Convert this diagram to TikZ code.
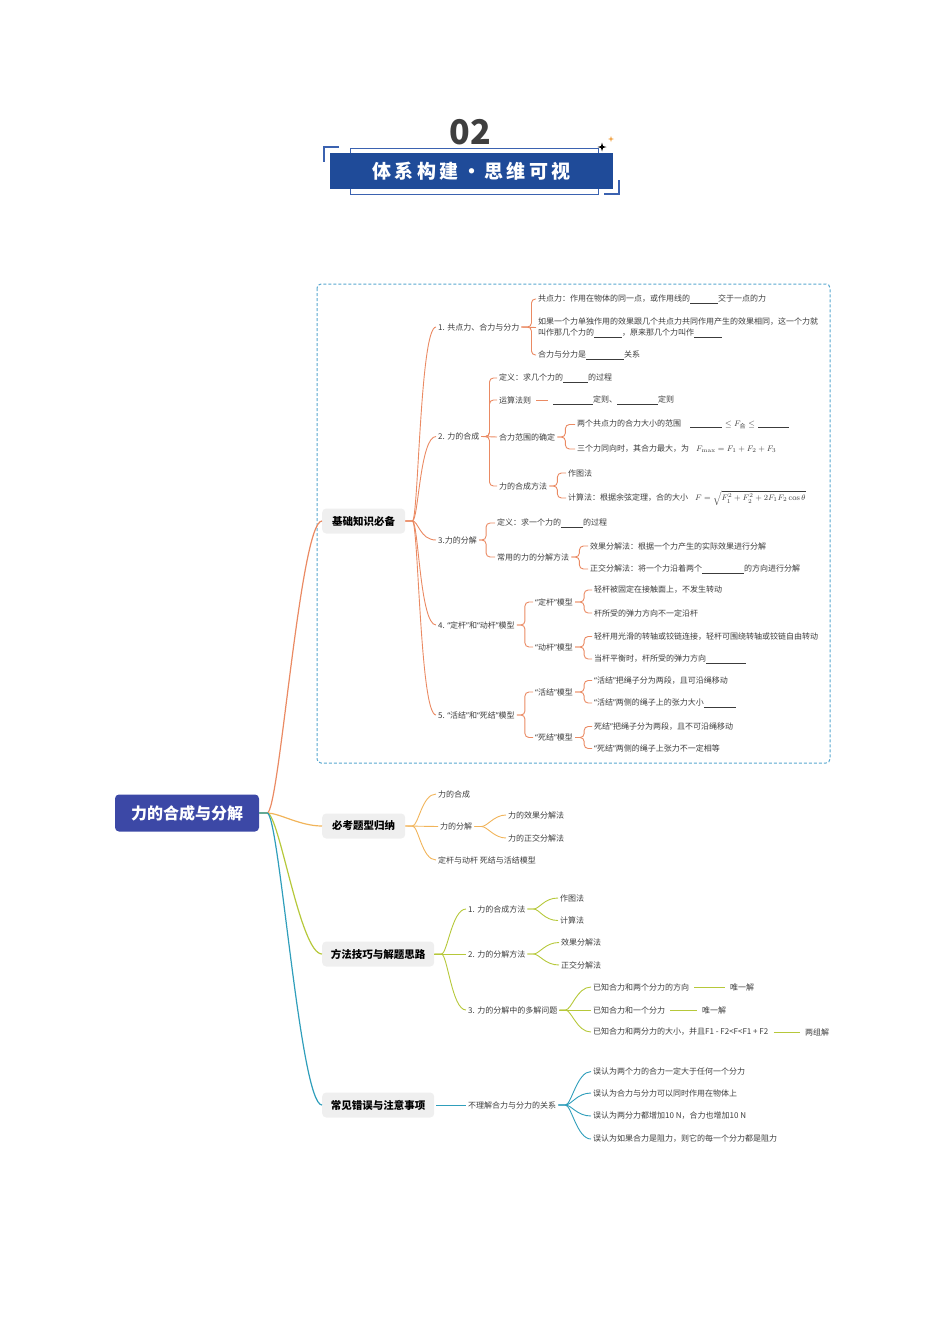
\documentclass[tikz,border=0pt]{standalone}
\usepackage[no-math]{fontspec}
\setmainfont{Noto Sans CJK SC}
\newfontfamily\latinq{Noto Sans}
\usepackage{amsmath}
\usepackage{xcolor}
\definecolor{bandBlue}{HTML}{1F4B99}
\definecolor{frameBlue}{HTML}{3B62B0}
\definecolor{rootBlue}{HTML}{3C48A6}
\definecolor{numGray}{HTML}{3F3F3F}
\definecolor{txtGray}{HTML}{3C3C3C}
\definecolor{boxGray}{HTML}{EFEFEF}
\definecolor{dashBlue}{HTML}{58A7CF}
\definecolor{colBasic}{HTML}{EA8A63}
\definecolor{colExam}{HTML}{F1B45A}
\definecolor{colSkill}{HTML}{B6C83A}
\definecolor{colError}{HTML}{2F9EBB}
\definecolor{starOrange}{HTML}{F0A040}
\newcommand{\tiankong}[1]{\rule[-1.5pt]{#1pt}{0.5pt}}
\newcommand{\qo}{{\latinq “}}
\newcommand{\qc}{{\latinq ”}}
\usepackage{tikz}
\tikzset{
	rootbox/.style={fill=rootBlue, rounded corners=4pt, text=white, font=\fontsize{16}{16}\selectfont\bfseries, minimum width=144pt, minimum height=37pt},
	topicbox/.style={fill=boxGray, rounded corners=4pt, anchor=west, font=\fontsize{10.5}{12}\selectfont\bfseries, minimum width=83pt, minimum height=25pt},
	leaf/.style={anchor=west, inner sep=2pt, text=txtGray, font=\fontsize{8}{11}\selectfont, align=left},
	trunk/.style={draw=#1, line width=1.2pt},
	swing/.style={draw=#1, line width=0.9pt},
	bracket/.style={draw=#1, line width=0.9pt, rounded corners=4pt},
	dashlink/.style={draw=#1, line width=0.9pt, shorten <=3pt, shorten >=3pt},
}
\begin{document}
\begin{tikzpicture}[x=1pt, y=-1pt]
	\useasboundingbox (0,0) rectangle (950,1344);
	% title banner
	\node[text=numGray, font=\fontsize{34}{34}\selectfont\bfseries] (num) at (470,132) {02};
	\draw[frameBlue, line width=0.8pt] (350,148) rectangle (598,194);
	\node[fill=bandBlue, minimum width=283pt, minimum height=36pt, text=white, font=\fontsize{19}{19}\selectfont\bfseries\addfontfeatures{LetterSpace=18}] (band) at (471.5,171) {体系构建・思维可视};
	\draw[frameBlue, line width=1.2pt] (339,147) -- (324,147) -- (324,162);
	\draw[frameBlue, line width=1.2pt] (604,194) -- (619,194) -- (619,180);
	\fill (602,142.5) -- (603,146) -- (606.5,147) -- (603,148) -- (602,151.5) -- (601,148) -- (597.5,147) -- (601,146) -- cycle;
	\fill[starOrange] (611,136) -- (611.7,138.3) -- (614,139) -- (611.7,139.7) -- (611,142) -- (610.3,139.7) -- (608,139) -- (610.3,138.3) -- cycle;

	\draw[dashBlue, line width=1pt, dash pattern=on 3pt off 2pt, rounded corners=4pt] (317,284) rectangle (830,763);

	\node[rootbox] (root) at (187,813) {力的合成与分解};
	\node[topicbox] (basic) at (322,521) {基础知识必备};
	\node[topicbox] (exam) at (322,826) {必考题型归纳};
	\node[topicbox, minimum width=112pt] (skill) at (322,954) {方法技巧与解题思路};
	\node[topicbox, minimum width=112pt] (error) at (322,1105) {常见错误与注意事项};
	\draw[trunk=colBasic] (root.east) -- ++(8,0) .. controls +(12,0) and +(-22,0) .. (basic.west);
	\draw[trunk=colExam] (root.east) -- ++(8,0) .. controls +(12,0) and +(-22,0) .. (exam.west);
	\draw[trunk=colSkill] (root.east) -- ++(8,0) .. controls +(12,0) and +(-22,0) .. (skill.west);
	\draw[trunk=colError] (root.east) -- ++(8,0) .. controls +(12,0) and +(-22,0) .. (error.west);

	\node[leaf] (s1) at (436,327) {1. 共点力、合力与分力};
	\node[leaf] (s1a) at (536,299) {共点力：作用在物体的同一点，或作用线的\tiankong{28}交于一点的力};
	\node[leaf] (s1b) at (536,327.5) {如果一个力单独作用的效果跟几个共点力共同作用产生的效果相同，这一个力就\\叫作那几个力的\tiankong{28}，原来那几个力叫作\tiankong{28}};
	\node[leaf] (s1c) at (536,355) {合力与分力是\tiankong{38}关系};
	\node[leaf] (s2) at (436,436.5) {2. 力的合成};
	\node[leaf] (s2a) at (497,378) {定义：求几个力的\tiankong{25}的过程};
	\node[leaf] (s2b) at (497,400) {运算法则};
	\node[leaf] (s2b1) at (551,400) {\tiankong{40}定则、\tiankong{41}定则};
	\node[leaf] (s2c) at (497,437) {合力范围的确定};
	\node[leaf] (s2c1) at (575,424.5) {两个共点力的合力大小的范围\hspace{9pt}\tiankong{32}\hspace{3pt}$\le F_{\text{合}}\le$\hspace{3pt}\tiankong{31}};
	\node[leaf] (s2c2) at (575,449) {三个力同向时，其合力最大，为\hspace{7pt}$F_{\max}=F_1+F_2+F_3$};
	\node[leaf] (s2d) at (497,486) {力的合成方法};
	\node[leaf] (s2d1) at (566,473) {作图法};
	\node[leaf] (s2d2) at (566,498) {计算法：根据余弦定理，合的大小\hspace{7pt}$F=\sqrt{F_1^2+F_2^2+2F_1F_2\cos\theta}$};
	\node[leaf] (s3) at (436,540) {3.力的分解};
	\node[leaf] (s3a) at (495,523) {定义：求一个力的\tiankong{22}的过程};
	\node[leaf] (s3b) at (495,557) {常用的力的分解方法};
	\node[leaf] (s3b1) at (588,546) {效果分解法：根据一个力产生的实际效果进行分解};
	\node[leaf] (s3b2) at (588,569) {正交分解法：将一个力沿着两个\tiankong{42}的方向进行分解};
	\node[leaf] (s4) at (436,625) {4. \qo 定杆\qc 和\qo 动杆\qc 模型};
	\node[leaf] (s4a) at (533,602) {\qo 定杆\qc 模型};
	\node[leaf] (s4a1) at (592,590) {轻杆被固定在接触面上，不发生转动};
	\node[leaf] (s4a2) at (592,613) {杆所受的弹力方向不一定沿杆};
	\node[leaf] (s4b) at (533,647) {\qo 动杆\qc 模型};
	\node[leaf] (s4b1) at (592,636.5) {轻杆用光滑的转轴或铰链连接，轻杆可围绕转轴或铰链自由转动};
	\node[leaf] (s4b2) at (592,659) {当杆平衡时，杆所受的弹力方向\tiankong{40}};
	\node[leaf] (s5) at (436,715) {5. \qo 活结\qc 和\qo 死结\qc 模型};
	\node[leaf] (s5a) at (533,692) {\qo 活结\qc 模型};
	\node[leaf] (s5a1) at (592,680.5) {\qo 活结\qc 把绳子分为两段，且可沿绳移动};
	\node[leaf] (s5a2) at (592,703) {\qo 活结\qc 两侧的绳子上的张力大小\tiankong{32}};
	\node[leaf] (s5b) at (533,737.5) {\qo 死结\qc 模型};
	\node[leaf] (s5b1) at (592,726.5) {死结\qc 把绳子分为两段，且不可沿绳移动};
	\node[leaf] (s5b2) at (592,748.5) {\qo 死结\qc 两侧的绳子上张力不一定相等};

	\draw[swing=colBasic] (basic.east) -- ++(7,0) .. controls +(6,0) and +(-16,0) .. (s1.west);
	\draw[swing=colBasic] (basic.east) -- ++(7,0) .. controls +(6,0) and +(-16,0) .. (s2.west);
	\draw[swing=colBasic] (basic.east) -- ++(7,0) .. controls +(6,0) and +(-16,0) .. (s3.west);
	\draw[swing=colBasic] (basic.east) -- ++(7,0) .. controls +(6,0) and +(-16,0) .. (s4.west);
	\draw[swing=colBasic] (basic.east) -- ++(7,0) .. controls +(6,0) and +(-16,0) .. (s5.west);
	\draw[bracket=colBasic] (s1.east) -- ++(10,0) |- (s1a.west);
	\draw[bracket=colBasic] (s1.east) -- (s1b.west);
	\draw[bracket=colBasic] (s1.east) -- ++(10,0) |- (s1c.west);
	\draw[bracket=colBasic] (s2.east) -- ++(8,0) |- (s2a.west);
	\draw[bracket=colBasic] (s2.east) -- ++(8,0) |- (s2b.west);
	\draw[bracket=colBasic] (s2.east) -- (s2c.west);
	\draw[bracket=colBasic] (s2.east) -- ++(8,0) |- (s2d.west);
	\draw[dashlink=colBasic] (s2b.east) -- (s2b1.west);
	\draw[bracket=colBasic] (s2c.east) -- ++(8,0) |- (s2c1.west);
	\draw[bracket=colBasic] (s2c.east) -- ++(8,0) |- (s2c2.west);
	\draw[bracket=colBasic] (s2d.east) -- ++(8,0) |- (s2d1.west);
	\draw[bracket=colBasic] (s2d.east) -- ++(8,0) |- (s2d2.west);
	\draw[bracket=colBasic] (s3.east) -- ++(7,0) |- (s3a.west);
	\draw[bracket=colBasic] (s3.east) -- ++(7,0) |- (s3b.west);
	\draw[bracket=colBasic] (s3b.east) -- ++(8,0) |- (s3b1.west);
	\draw[bracket=colBasic] (s3b.east) -- ++(8,0) |- (s3b2.west);
	\draw[bracket=colBasic] (s4.east) -- ++(8,0) |- (s4a.west);
	\draw[bracket=colBasic] (s4.east) -- ++(8,0) |- (s4b.west);
	\draw[bracket=colBasic] (s4a.east) -- ++(9,0) |- (s4a1.west);
	\draw[bracket=colBasic] (s4a.east) -- ++(9,0) |- (s4a2.west);
	\draw[bracket=colBasic] (s4b.east) -- ++(9,0) |- (s4b1.west);
	\draw[bracket=colBasic] (s4b.east) -- ++(9,0) |- (s4b2.west);
	\draw[bracket=colBasic] (s5.east) -- ++(8,0) |- (s5a.west);
	\draw[bracket=colBasic] (s5.east) -- ++(8,0) |- (s5b.west);
	\draw[bracket=colBasic] (s5a.east) -- ++(9,0) |- (s5a1.west);
	\draw[bracket=colBasic] (s5a.east) -- ++(9,0) |- (s5a2.west);
	\draw[bracket=colBasic] (s5b.east) -- ++(9,0) |- (s5b1.west);
	\draw[bracket=colBasic] (s5b.east) -- ++(9,0) |- (s5b2.west);

	\node[leaf] (k1) at (436,794) {力的合成};
	\node[leaf] (k2) at (438,826.5) {力的分解};
	\node[leaf] (k3) at (436,860) {定杆与动杆 死结与活结模型};
	\node[leaf] (k2a) at (506,815) {力的效果分解法};
	\node[leaf] (k2b) at (506,838) {力的正交分解法};
	\draw[swing=colExam] (exam.east) -- ++(7,0) .. controls +(6,0) and +(-14,0) .. (k1.west);
	\draw[swing=colExam] (exam.east) -- (k2.west);
	\draw[swing=colExam] (exam.east) -- ++(7,0) .. controls +(6,0) and +(-14,0) .. (k3.west);
	\draw[swing=colExam] (k2.east) -- ++(7,0) .. controls +(6,0) and +(-12,0) .. (k2a.west);
	\draw[swing=colExam] (k2.east) -- ++(7,0) .. controls +(6,0) and +(-12,0) .. (k2b.west);

	\node[leaf] (m1) at (466,909) {1. 力的合成方法};
	\node[leaf] (m1a) at (558,898) {作图法};
	\node[leaf] (m1b) at (558,920.5) {计算法};
	\node[leaf] (m2) at (466,954) {2. 力的分解方法};
	\node[leaf] (m2a) at (559,942.5) {效果分解法};
	\node[leaf] (m2b) at (559,965) {正交分解法};
	\node[leaf] (m3) at (466,1010) {3. 力的分解中的多解问题};
	\node[leaf] (m3a) at (591,987) {已知合力和两个分力的方向};
	\node[leaf] (m3a1) at (728,987) {唯一解};
	\node[leaf] (m3b) at (591,1010) {已知合力和一个分力};
	\node[leaf] (m3b1) at (700,1010) {唯一解};
	\node[leaf] (m3c) at (591,1032) {已知合力和两分力的大小，并且F1 - F2<F<F1 + F2};
	\node[leaf] (m3c1) at (803,1032) {两组解};
	\draw[swing=colSkill] (skill.east) -- ++(7,0) .. controls +(6,0) and +(-14,0) .. (m1.west);
	\draw[swing=colSkill] (skill.east) -- (m2.west);
	\draw[swing=colSkill] (skill.east) -- ++(7,0) .. controls +(6,0) and +(-14,0) .. (m3.west);
	\draw[swing=colSkill] (m1.east) -- ++(6,0) .. controls +(6,0) and +(-14,0) .. (m1a.west);
	\draw[swing=colSkill] (m1.east) -- ++(6,0) .. controls +(6,0) and +(-14,0) .. (m1b.west);
	\draw[swing=colSkill] (m2.east) -- ++(6,0) .. controls +(6,0) and +(-14,0) .. (m2a.west);
	\draw[swing=colSkill] (m2.east) -- ++(6,0) .. controls +(6,0) and +(-14,0) .. (m2b.west);
	\draw[swing=colSkill] (m3.east) -- ++(6,0) .. controls +(6,0) and +(-14,0) .. (m3a.west);
	\draw[swing=colSkill] (m3.east) -- (m3b.west);
	\draw[swing=colSkill] (m3.east) -- ++(6,0) .. controls +(6,0) and +(-14,0) .. (m3c.west);
	\draw[dashlink=colSkill] (m3a.east) -- (m3a1.west);
	\draw[dashlink=colSkill] (m3b.east) -- (m3b1.west);
	\draw[dashlink=colSkill] (m3c.east) -- (m3c1.west);

	\node[leaf] (c1) at (466,1105) {不理解合力与分力的关系};
	\node[leaf] (c1a) at (591,1071.5) {误认为两个力的合力一定大于任何一个分力};
	\node[leaf] (c1b) at (591,1093) {误认为合力与分力可以同时作用在物体上};
	\node[leaf] (c1c) at (591,1116) {误认为两分力都增加10 N，合力也增加10 N};
	\node[leaf] (c1d) at (591,1139) {误认为如果合力是阻力，则它的每一个分力都是阻力};
	\draw[swing=colError, shorten <=2pt] (error.east) -- (c1.west);
	\draw[swing=colError] (c1.east) -- ++(7,0) .. controls +(6,0) and +(-14,0) .. (c1a.west);
	\draw[swing=colError] (c1.east) -- ++(7,0) .. controls +(6,0) and +(-14,0) .. (c1b.west);
	\draw[swing=colError] (c1.east) -- ++(7,0) .. controls +(6,0) and +(-14,0) .. (c1c.west);
	\draw[swing=colError] (c1.east) -- ++(7,0) .. controls +(6,0) and +(-14,0) .. (c1d.west);
\end{tikzpicture}
\end{document}
